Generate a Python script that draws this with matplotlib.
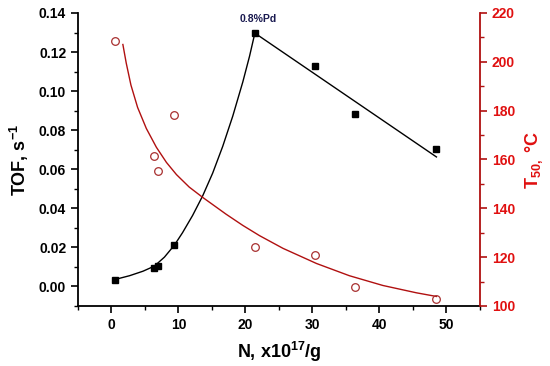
import matplotlib
matplotlib.use("Agg")
import matplotlib.pyplot as plt
from matplotlib.ticker import MultipleLocator

plt.rcParams['font.family'] = 'Liberation Sans'
plt.rcParams['font.weight'] = 'bold'
plt.rcParams['axes.labelweight'] = 'bold'
plt.rcParams['mathtext.fontset'] = 'custom'
plt.rcParams['mathtext.rm'] = 'Liberation Sans:bold'
plt.rcParams['mathtext.it'] = 'Liberation Sans:bold'
plt.rcParams['mathtext.bf'] = 'Liberation Sans:bold'

# TOF data (black squares)
n_tof = [0.5, 6.4, 7.0, 9.4, 21.4, 30.4, 36.4, 48.5]
tof = [0.0031, 0.0093, 0.0104, 0.0210, 0.1297, 0.1130, 0.0884, 0.0705]

# TOF trend: rising curve then straight line after the 0.8%Pd sample
n_rise = [0.45, 2.7, 4.7, 6.4, 7.9, 9.4, 10.6, 12.1, 13.6, 15.1, 16.6, 18.1, 19.6, 20.6, 21.4]
tof_rise = [0.0035, 0.0055, 0.0078, 0.0104, 0.0150, 0.0212, 0.0275, 0.0363, 0.0463,
            0.0580, 0.0717, 0.0872, 0.1047, 0.1178, 0.1297]
n_fall = [21.4, 48.5]
tof_fall = [0.1297, 0.0663]

# T50 data (red circles)
n_t50 = [0.5, 6.3, 7.0, 9.4, 21.4, 30.4, 36.4, 48.5]
t50 = [208.5, 161.5, 155.2, 178.2, 124.0, 120.9, 107.8, 102.9]

# T50 trend curve
n_t50_fit = [1.7, 2.2, 2.9, 3.9, 5.2, 6.7, 8.2, 9.7, 11.6, 13.6, 17.1, 19.6, 22.1,
             25.6, 30.6, 35.5, 40.5, 45.5, 48.5]
t50_fit = [207.1, 199.5, 190.5, 181.3, 172.7, 165.0, 158.8, 153.8, 148.7, 144.5, 137.6,
           133.0, 128.8, 123.6, 117.4, 112.4, 108.4, 105.4, 103.9]

red = '#e01010'
dark_red = '#b01010'

fig = plt.figure(figsize=(5.5, 3.66), dpi=100)
ax = fig.add_axes([0.1418, 0.164, 0.7309, 0.8005])
ax2 = ax.twinx()

ax.plot(n_rise, tof_rise, color='black', lw=1.0)
ax.plot(n_fall, tof_fall, color='black', lw=1.0)
ax.plot(n_tof, tof, 's', color='black', ms=5, zorder=5)
ax.text(21.9, 0.1345, '0.8%Pd', color='#1a1a50', fontsize=7.5, ha='center', va='bottom')

ax2.plot(n_t50_fit, t50_fit, color=dark_red, lw=1.0)
ax2.plot(n_t50, t50, 'o', mfc='none', mec='#a83030', ms=5.5, mew=0.9)

ax.set_xlim(-5, 55)
ax.set_ylim(-0.01, 0.14)
ax2.set_ylim(100, 220)

ax.xaxis.set_major_locator(MultipleLocator(10))
ax.xaxis.set_minor_locator(MultipleLocator(5))
ax.yaxis.set_major_locator(MultipleLocator(0.02))
ax.yaxis.set_minor_locator(MultipleLocator(0.01))
ax2.yaxis.set_major_locator(MultipleLocator(20))
ax2.yaxis.set_minor_locator(MultipleLocator(10))
ax.yaxis.set_major_formatter(plt.FormatStrFormatter('%.2f'))

for a in (ax, ax2):
    a.spines['top'].set_visible(False)
    for s in a.spines.values():
        s.set_linewidth(1.3)
ax.spines['right'].set_visible(False)
ax2.spines['left'].set_visible(False)
ax2.spines['bottom'].set_visible(False)
ax2.spines['right'].set_color(dark_red)

ax.tick_params(which='major', length=5, width=1.2, labelsize=10, direction='out')
ax.tick_params(which='minor', length=3, width=1.0, direction='out')
ax2.tick_params(which='major', length=5, width=1.2, labelsize=10, colors=dark_red, labelcolor=red)
ax2.tick_params(which='minor', length=3, width=1.0, colors=dark_red)

ax.set_xlabel('N, x10$^{17}$/g', fontsize=13, labelpad=6)
ax.set_ylabel('TOF, s$^{-1}$', fontsize=13, labelpad=6)
ax2.set_ylabel('T$_{50,}$ °C', fontsize=13, color=red, labelpad=6)

fig.savefig('out.png', dpi=100)
